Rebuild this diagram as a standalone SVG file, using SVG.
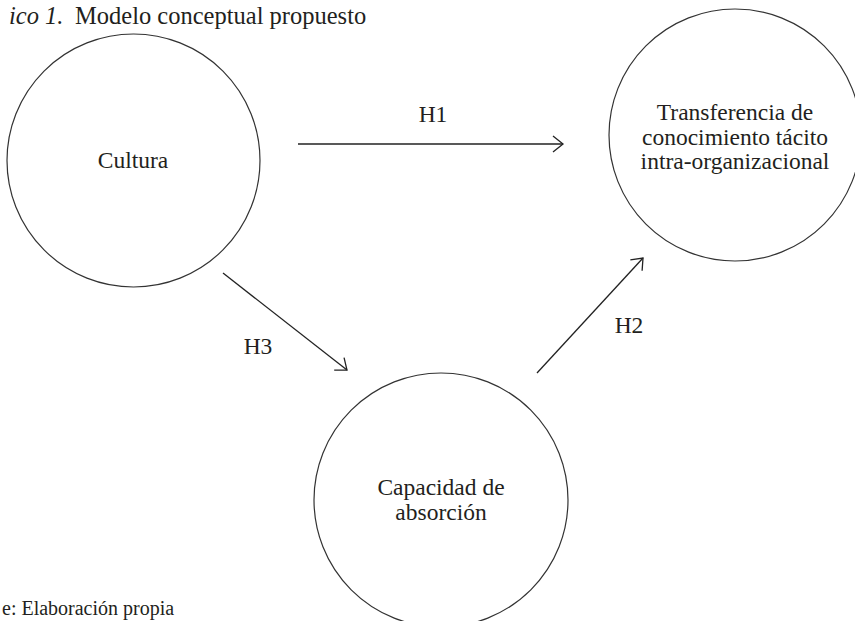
<svg xmlns="http://www.w3.org/2000/svg" width="855" height="621" viewBox="0 0 855 621">
<style>
  .node { fill: none; stroke: #333; stroke-width: 1.2; }
  .lbl { font-family: "Liberation Serif", "DejaVu Serif", serif; font-size: 23.5px; fill: #231f20; text-anchor: middle; }
  .cap { font-family: "Liberation Serif", "DejaVu Serif", serif; fill: #231f20; }
  .edge { stroke: #222; stroke-width: 1.3; fill: none; marker-end: url(#arr); }
</style>
<defs>
  <marker id="arr" markerUnits="userSpaceOnUse" markerWidth="24" markerHeight="24" viewBox="-12 -12 24 24" refX="0" refY="0" orient="auto">
    <path d="M-10,-8 L0,0 L-10,8" fill="none" stroke="#222" stroke-width="1.3"/>
  </marker>
</defs>
<rect width="855" height="621" fill="#fff"/>
<text class="cap" x="9" y="24" font-size="24.5" font-style="italic">ico 1.</text>
<text class="cap" x="75" y="24" font-size="24.5">Modelo conceptual propuesto</text>
<g id="cultura">
  <circle class="node" cx="133.5" cy="160.5" r="126.5"/>
  <text class="lbl" x="133" y="168">Cultura</text>
</g>
<g id="transferencia">
  <circle class="node" cx="735" cy="135" r="126"/>
  <text class="lbl" x="735" y="120">Transferencia de</text>
  <text class="lbl" x="735" y="145">conocimiento tácito</text>
  <text class="lbl" x="735" y="169">intra-organizacional</text>
</g>
<g id="capacidad">
  <circle class="node" cx="441" cy="500" r="127"/>
  <text class="lbl" x="441" y="495">Capacidad de</text>
  <text class="lbl" x="441" y="520">absorción</text>
</g>
<g id="connectors">
  <line class="edge" x1="298" y1="144" x2="563" y2="144"/>
  <line class="edge" x1="223" y1="273" x2="347" y2="370"/>
  <line class="edge" x1="537" y1="373" x2="643" y2="258"/>
  <text class="lbl" x="433" y="122">H1</text>
  <text class="lbl" x="629" y="333">H2</text>
  <text class="lbl" x="258" y="354">H3</text>
</g>
<text class="cap" x="2" y="615" font-size="20">e: Elaboración propia</text>
</svg>
